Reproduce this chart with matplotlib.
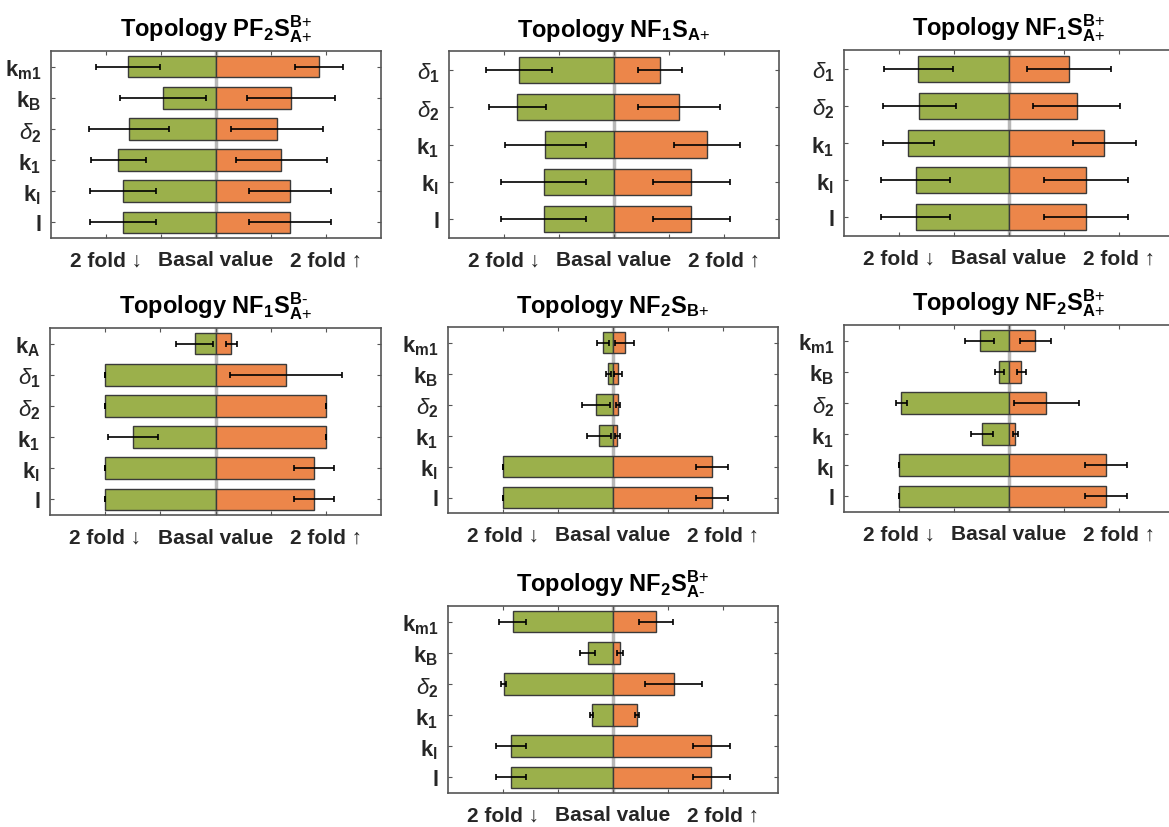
import matplotlib.pyplot as plt
import numpy as np

plt.rcParams['font.family'] = ['Liberation Sans', 'DejaVu Sans']
plt.rcParams['mathtext.fontset'] = 'custom'
plt.rcParams['mathtext.rm'] = 'Liberation Sans'
plt.rcParams['mathtext.bf'] = 'Liberation Sans:bold'
plt.rcParams['mathtext.it'] = 'Liberation Sans:italic'

# parameter labels
KM1 = r'k$_\mathbf{m1}$'
KB = r'k$_\mathbf{B}$'
KA = r'k$_\mathbf{A}$'
D1 = r'$\delta_\mathbf{1}$'
D2 = r'$\delta_\mathbf{2}$'
K1 = r'k$_\mathbf{1}$'
KL = r'k$_\mathbf{l}$'
L = 'l'

# signs as plain text so they sit tight against the letter
P = r'\text{+}'
M = r'\text{-}'
titles = [
    r'Topology PF$_\mathbf{2}\mathbf{S}^{\mathbf{B}' + P + r'}_{\mathbf{A}' + P + '}$',
    r'Topology NF$_\mathbf{1}\mathbf{S}_{\mathbf{A}' + P + '}$',
    r'Topology NF$_\mathbf{1}\mathbf{S}^{\mathbf{B}' + P + r'}_{\mathbf{A}' + P + '}$',
    r'Topology NF$_\mathbf{1}\mathbf{S}^{\mathbf{B}' + M + r'}_{\mathbf{A}' + P + '}$',
    r'Topology NF$_\mathbf{2}\mathbf{S}_{\mathbf{B}' + P + '}$',
    r'Topology NF$_\mathbf{2}\mathbf{S}^{\mathbf{B}' + P + r'}_{\mathbf{A}' + P + '}$',
    r'Topology NF$_\mathbf{2}\mathbf{S}^{\mathbf{B}' + P + r'}_{\mathbf{A}' + M + '}$',
]

params = [
    [KM1, KB, D2, K1, KL, L],
    [D1, D2, K1, KL, L],
    [D1, D2, K1, KL, L],
    [KA, D1, D2, K1, KL, L],
    [KM1, KB, D2, K1, KL, L],
    [KM1, KB, D2, K1, KL, L],
    [KM1, KB, D2, K1, KL, L],
]

# fold change of the parameter when decreased (down) / increased (up), with std
down = [
    [-1.60, -0.96, -1.58, -1.78, -1.69, -1.69],
    [-1.72, -1.76, -1.25, -1.28, -1.28],
    [-1.65, -1.63, -1.83, -1.70, -1.70],
    [-0.38, -2.00, -2.00, -1.50, -2.00, -2.00],
    [-0.18, -0.085, -0.31, -0.255, -2.00, -2.00],
    [-0.535, -0.175, -1.96, -0.49, -2.00, -2.00],
    [-1.82, -0.46, -1.99, -0.385, -1.85, -1.85],
]
down_err = [
    [0.59, 0.78, 0.73, 0.50, 0.60, 0.60],
    [0.60, 0.52, 0.74, 0.77, 0.77],
    [0.63, 0.66, 0.47, 0.63, 0.63],
    [0.33, 0.0, 0.0, 0.45, 0.0, 0.0],
    [0.11, 0.04, 0.26, 0.21, 0.0, 0.0],
    [0.265, 0.085, 0.10, 0.20, 0.0, 0.0],
    [0.245, 0.14, 0.04, 0.03, 0.27, 0.27],
]
up = [
    [1.87, 1.36, 1.11, 1.19, 1.345, 1.345],
    [0.84, 1.18, 1.69, 1.40, 1.40],
    [1.09, 1.23, 1.73, 1.40, 1.40],
    [0.29, 1.28, 2.00, 2.00, 1.78, 1.78],
    [0.21, 0.09, 0.097, 0.08, 1.80, 1.80],
    [0.48, 0.22, 0.675, 0.115, 1.76, 1.76],
    [0.78, 0.127, 1.10, 0.435, 1.79, 1.79],
]
up_err = [
    [0.44, 0.80, 0.83, 0.83, 0.74, 0.74],
    [0.40, 0.75, 0.60, 0.70, 0.70],
    [0.76, 0.79, 0.57, 0.77, 0.77],
    [0.10, 1.01, 0.0, 0.0, 0.36, 0.36],
    [0.17, 0.07, 0.035, 0.05, 0.29, 0.29],
    [0.28, 0.08, 0.59, 0.05, 0.38, 0.38],
    [0.31, 0.05, 0.51, 0.04, 0.33, 0.33],
]

xtick_labels = ['2 fold \u2193', '', 'Basal value', '', '2 fold \u2191']

# axes boxes in pixels: left, top, right, bottom
W, H = 1169, 828
boxes = [
    (51, 52, 381, 239), (449, 52, 779, 239), (844, 51, 1174, 237),
    (50, 329, 381, 516), (448, 328, 778, 514), (844, 326, 1174, 513),
    (448, 607, 778, 794),
]

green = '#9BB04B'
orange = '#EC864A'
edge = '#3a3a3a'

fig = plt.figure(figsize=(W / 100, H / 100), dpi=100)

for i in range(len(titles)):
    l, t, r, b = boxes[i]
    ax = fig.add_axes([l / W, 1 - b / H, (r - l) / W, (b - t) / H])
    y = np.arange(len(params[i]))

    ax.axvline(0, color='#b8b8b8', lw=2.5, zorder=1)
    ax.barh(y, down[i], height=0.7, color=green, edgecolor=edge, lw=1, zorder=2)
    ax.barh(y, up[i], height=0.7, color=orange, edgecolor=edge, lw=1, zorder=2)
    ax.errorbar(down[i], y, xerr=down_err[i], fmt='none', ecolor='black',
                elinewidth=1.2, capsize=2, capthick=1.2, zorder=3)
    ax.errorbar(up[i], y, xerr=up_err[i], fmt='none', ecolor='black',
                elinewidth=1.2, capsize=2, capthick=1.2, zorder=3)

    ax.set_xlim(-3, 3)
    ax.set_ylim(len(y) - 0.5, -0.5)
    ax.set_xticks([-2, -1, 0, 1, 2])
    ax.set_xticklabels(xtick_labels, fontsize=15, fontweight='bold', color='#262626')
    ax.set_yticks(y)
    ax.set_yticklabels(params[i], fontsize=16, fontweight='bold', color='#262626')
    ax.tick_params(direction='in', length=3, width=0.8, color='#555555',
                   top=True, right=True)
    ax.tick_params(axis='x', pad=9)
    ax.tick_params(axis='y', pad=7)
    for s in ax.spines.values():
        s.set_color('#555555')
        s.set_linewidth(1.2)
    ax.set_title(titles[i], fontsize=17, fontweight='bold', pad=11)

fig.savefig('out.png', dpi=100)
